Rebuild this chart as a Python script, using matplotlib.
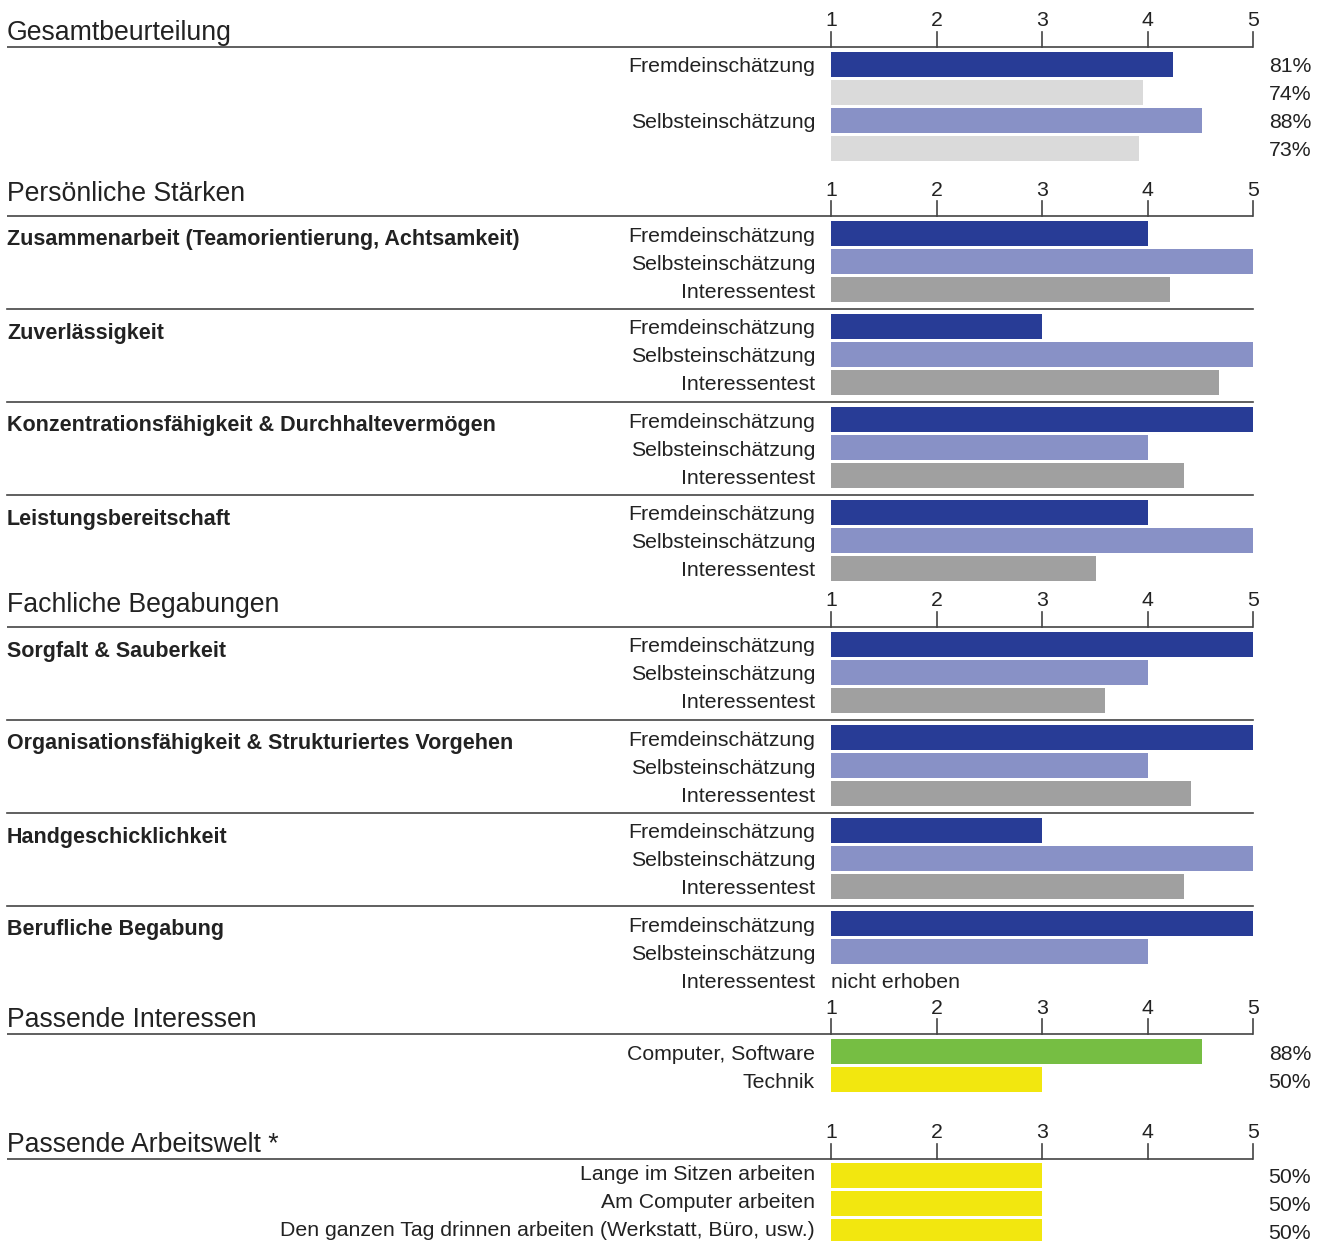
import matplotlib
matplotlib.use('Agg')
import matplotlib.pyplot as plt

plt.rcParams['font.family'] = ['Liberation Sans', 'Arimo', 'DejaVu Sans']

# ---------------- data ----------------
scale_ticks = [1, 2, 3, 4, 5]

gesamt_labels = ['Fremdeinschätzung', '', 'Selbsteinschätzung', '']
gesamt_pct = [81, 74, 88, 73]

rating_labels = ['Fremdeinschätzung', 'Selbsteinschätzung', 'Interessentest']

staerken_groups = ['Zusammenarbeit (Teamorientierung, Achtsamkeit)', 'Zuverlässigkeit',
                   'Konzentrationsfähigkeit & Durchhaltevermögen', 'Leistungsbereitschaft']
staerken_fremd = [4, 3, 5, 4]
staerken_selbst = [5, 5, 4, 5]
staerken_interesse = [4.21, 4.68, 4.35, 3.51]

begabung_groups = ['Sorgfalt & Sauberkeit', 'Organisationsfähigkeit & Strukturiertes Vorgehen',
                   'Handgeschicklichkeit', 'Berufliche Begabung']
begabung_fremd = [5, 5, 3, 5]
begabung_selbst = [4, 4, 5, 4]
begabung_interesse = [3.60, 4.41, 4.35, None]

interessen_labels = ['Computer, Software', 'Technik']
interessen_pct = [88, 50]

arbeitswelt_labels = ['Lange im Sitzen arbeiten', 'Am Computer arbeiten',
                      'Den ganzen Tag drinnen arbeiten (Werkstatt, Büro, usw.)']
arbeitswelt_pct = [50, 50, 50]

# ---------------- style ----------------
C_FREMD = '#283c96'
C_SELBST = '#8891c6'
C_LIGHT = '#dadada'
C_INTER = '#a0a0a0'
C_GREEN = '#76be43'
C_YELLOW = '#f2e70f'
C_TEXT = '#222222'
C_LINE = '#444444'

W, H = 1325, 1241
fig = plt.figure(figsize=(W / 100, H / 100), dpi=100)
ax = fig.add_axes([0, 0, 1, 1])
PX = 105.5  # pixels per scale unit
X1 = 831    # pixel of value 1
ax.set_xlim(1 - X1 / PX, 1 + (W - X1) / PX)
ax.set_ylim(H, 0)
ax.axis('off')


def px2x(p):
    return 1 + (p - X1) / PX


LEFT = px2x(7)
LABEL_X = px2x(815)
PCT_X = px2x(1311)
BAR_H = 25
FS_TITLE = 19.2
FS_LAB = 15.3
FS_BOLD = 15.5
DY = 3  # text centre offset relative to bar centre


def pct2val(p):
    return 1 + 4 * p / 100.0


def header(title, title_y, line_y):
    ax.text(LEFT, title_y + 2, title, fontsize=FS_TITLE, color=C_TEXT, va='center', ha='left')
    ax.plot([LEFT, 5], [line_y, line_y], color=C_LINE, lw=1.2, solid_capstyle='butt')
    for t in scale_ticks:
        ax.plot([t, t], [line_y - 15, line_y], color=C_LINE, lw=1.2)
        ax.text(t, line_y - 26, str(t), fontsize=FS_LAB, color=C_TEXT, ha='center', va='center')


def bar(y, val, color):
    ax.barh(y, val - 1, left=1, height=BAR_H, color=color, linewidth=0)


def label(y, s, dy=DY):
    ax.text(LABEL_X, y + dy, s, fontsize=FS_LAB, color=C_TEXT, ha='right', va='center')


def pct(y, p, dy=DY):
    ax.text(PCT_X, y + dy, f'{p}%', fontsize=FS_LAB, color=C_TEXT, ha='right', va='center')


# Gesamtbeurteilung
header('Gesamtbeurteilung', 31, 47)
g_colors = [C_FREMD, C_LIGHT, C_SELBST, C_LIGHT]
for i, (lab, p) in enumerate(zip(gesamt_labels, gesamt_pct)):
    y = 64 + 28 * i
    bar(y, pct2val(p), g_colors[i])
    if lab:
        label(y, lab)
    pct(y, p)


def rating_section(groups, fremd, selbst, inter, first_y):
    for gi, g in enumerate(groups):
        y0 = first_y + 93 * gi
        ax.text(LEFT, y0 + 7, g, fontsize=FS_BOLD, fontweight='bold', color=C_TEXT,
                ha='left', va='center')
        vals = [fremd[gi], selbst[gi], inter[gi]]
        cols = [C_FREMD, C_SELBST, C_INTER]
        for k in range(3):
            y = y0 + 28 * k
            label(y, rating_labels[k])
            if vals[k] is None:
                ax.text(1, y + DY, 'nicht erhoben', fontsize=FS_LAB, color=C_TEXT,
                        ha='left', va='center')
            else:
                bar(y, vals[k], cols[k])
        if gi < len(groups) - 1:
            ly = y0 + 76
            ax.plot([LEFT, 5], [ly, ly], color=C_LINE, lw=1.2)


header('Persönliche Stärken', 192, 216)
rating_section(staerken_groups, staerken_fremd, staerken_selbst, staerken_interesse, 233)

header('Fachliche Begabungen', 603, 627)
rating_section(begabung_groups, begabung_fremd, begabung_selbst, begabung_interesse, 644)

header('Passende Interessen', 1018, 1034)
i_colors = [C_GREEN, C_YELLOW]
for i, (lab, p) in enumerate(zip(interessen_labels, interessen_pct)):
    y = 1051 + 28 * i
    bar(y, pct2val(p), i_colors[i])
    label(y, lab)
    pct(y, p, dy=4)

header('Passende Arbeitswelt *', 1143, 1159)
for i, (lab, p) in enumerate(zip(arbeitswelt_labels, arbeitswelt_pct)):
    y = 1175 + 28 * i
    bar(y, pct2val(p), C_YELLOW)
    label(y, lab, dy=0)
    pct(y, p, dy=2.5)

fig.savefig('out.png', dpi=100)
